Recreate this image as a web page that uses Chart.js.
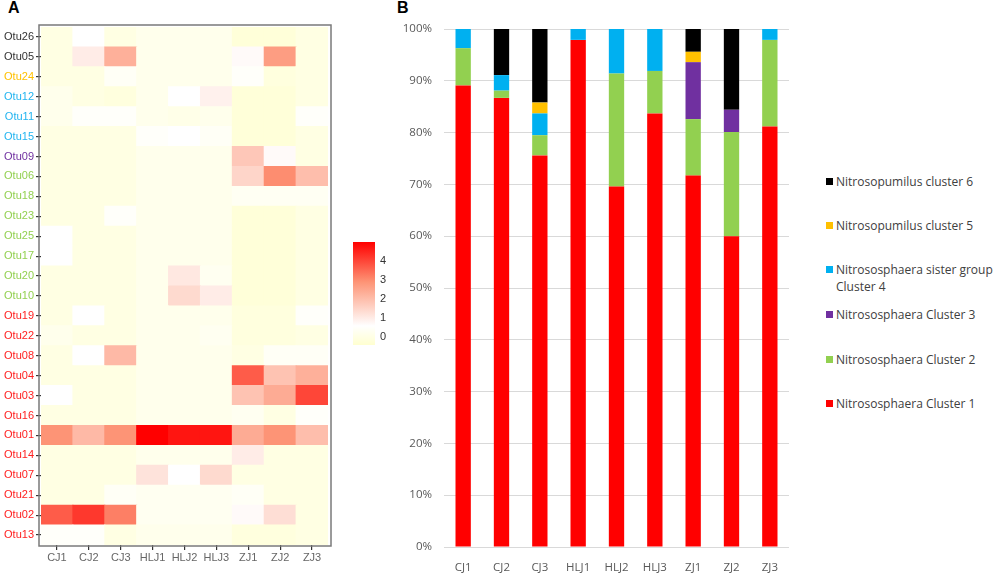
<!DOCTYPE html>
<html>
<head>
<meta charset="utf-8">
<script src="https://cdn.jsdelivr.net/npm/chart.js@4"></script>
<style>
  html, body { margin:0; padding:0; background:#fff; }
  body { width:1000px; height:573px; position:relative; overflow:hidden; }
  .panel { position:absolute; font-family:"Liberation Sans", Arial, sans-serif; font-weight:bold; font-size:16px; color:#000; }
  canvas { position:absolute; }
  #legend { position:absolute; left:826px; top:0; font-family:"Open Sans", sans-serif; font-size:12px; color:#404040; }
  .li { position:absolute; white-space:nowrap; line-height:17px; }
  .sw { position:absolute; width:7px; height:7px; left:0; }
  .tx { position:absolute; left:10px; }
</style>
</head>
<body>
<div class="panel" style="left:8px;top:-1px;">A</div>
<div class="panel" style="left:397px;top:-1px;">B</div>
<div style="position:absolute;left:0;top:0;width:340px;height:573px;"><canvas id="heat"></canvas></div>
<div style="position:absolute;left:340px;top:230px;width:60px;height:130px;"><canvas id="cbar"></canvas></div>
<div style="position:absolute;left:380px;top:0;width:420px;height:573px;"><canvas id="bars"></canvas></div>
<div id="legend"></div>
<script>
// ---------- data ----------
const samples = ['CJ1','CJ2','CJ3','HLJ1','HLJ2','HLJ3','ZJ1','ZJ2','ZJ3'];

const clusterNames = ['Nitrososphaera Cluster 1','Nitrososphaera Cluster 2','Nitrososphaera Cluster 3',
  'Nitrososphaera sister group Cluster 4','Nitrosopumilus cluster 5','Nitrosopumilus cluster 6'];
const clusterColors = ['#FF0000','#92D050','#7030A0','#00B0F0','#FFC000','#000000'];
const clusterLabelColors = ['#FF2020','#92D050','#7030A0','#22B4F0','#FFC000','#333333'];

const cluster1 = [89.1, 86.7, 75.6, 97.9, 69.6, 83.7, 71.7, 60.0, 81.2];
const cluster2 = [7.2, 1.4, 3.9, 0, 21.8, 8.2, 10.9, 20.1, 16.7];
const cluster3 = [0, 0, 0, 0, 0, 0, 11.0, 4.3, 0];
const cluster4 = [3.7, 3.0, 4.2, 2.1, 8.6, 8.1, 0, 0, 2.1];
const cluster5 = [0, 0, 2.1, 0, 0, 0, 2.0, 0, 0];
const cluster6 = [0, 8.9, 14.2, 0, 0, 0, 4.4, 15.6, 0];
const clusterValues = [cluster1, cluster2, cluster3, cluster4, cluster5, cluster6];

// heatmap rows, top to bottom
const otus = ['Otu26','Otu05','Otu24','Otu12','Otu11','Otu15','Otu09','Otu06','Otu18','Otu23','Otu25','Otu17','Otu20',
  'Otu10','Otu19','Otu22','Otu08','Otu04','Otu03','Otu16','Otu01','Otu14','Otu07','Otu21','Otu02','Otu13'];
const otuCluster = [6,6,5,4,4,4,3,2,2,2,2,2,2,2,1,1,1,1,1,1,1,1,1,1,1,1];
const heatValues = [
  [0.0, 0.6, 0.0, 0.2, 0.2, 0.2, -0.2, -0.2, 0.0], // Otu26
  [0.0, 1.0, 2.3, 0.2, 0.2, 0.2, 0.7, 2.7, 0.0],   // Otu05
  [0.0, 0.0, 0.4, 0.2, 0.2, 0.2, 0.5, -0.1, 0.0],  // Otu24
  [0.2, 0.0, -0.1, 0.2, 0.6, 0.9, -0.2, -0.2, 0.0],// Otu12
  [0.2, 0.5, 0.5, 0.2, 0.1, 0.2, -0.2, -0.2, 0.5], // Otu11
  [0.0, 0.0, 0.0, 0.5, 0.6, 0.4, -0.2, -0.2, 0.0], // Otu15
  [0.0, 0.0, 0.0, 0.2, 0.2, 0.2, 1.8, 0.7, 0.0],   // Otu09
  [0.0, 0.0, 0.0, 0.2, 0.2, 0.2, 1.5, 3.0, 2.0],   // Otu06
  [0.0, 0.0, 0.0, 0.2, 0.2, 0.2, 0.35, 0.35, 0.35],// Otu18
  [0.0, 0.0, 0.5, 0.2, 0.2, 0.2, -0.2, -0.2, 0.0], // Otu23
  [0.6, 0.0, 0.0, 0.2, 0.2, 0.2, -0.2, -0.2, 0.0], // Otu25
  [0.6, 0.0, 0.0, 0.2, 0.2, 0.2, -0.2, -0.2, 0.0], // Otu17
  [0.0, 0.0, 0.0, 0.2, 1.1, 0.3, -0.2, -0.2, 0.0], // Otu20
  [0.0, 0.0, 0.0, 0.2, 1.4, 1.0, -0.2, -0.2, 0.0], // Otu10
  [0.0, 0.6, 0.0, 0.2, 0.2, 0.2, -0.1, -0.1, 0.5], // Otu19
  [0.2, 0.0, 0.0, 0.2, 0.2, 0.3, -0.1, -0.1, 0.0], // Otu22
  [0.0, 0.6, 2.1, 0.2, 0.2, 0.2, 0.0, 0.4, 0.4],   // Otu08
  [0.0, 0.0, 0.0, 0.2, 0.2, 0.2, 3.7, 1.9, 2.3],   // Otu04
  [0.6, 0.0, 0.0, 0.2, 0.2, 0.2, 1.9, 2.4, 4.0],   // Otu03
  [0.0, 0.0, 0.0, 0.2, 0.2, 0.2, 0.3, 0.0, 0.5],   // Otu16
  [2.9, 2.1, 2.9, 5.0, 4.7, 4.7, 2.4, 2.9, 2.0],   // Otu01
  [0.0, 0.0, 0.0, 0.2, 0.2, 0.2, 1.0, 0.0, 0.0],   // Otu14
  [0.0, 0.0, 0.0, 1.2, 0.6, 1.4, 0.0, 0.0, 0.0],   // Otu07
  [0.0, 0.0, 0.4, 0.3, 0.3, 0.3, 0.4, 0.0, 0.0],   // Otu21
  [3.7, 4.2, 3.2, 0.3, 0.3, 0.3, 0.7, 1.3, 0.0],   // Otu02
  [0.5, 0.5, 0.0, 0.2, 0.2, 0.2, -0.1, -0.1, 0.0]  // Otu13
];
const colorMin = -0.4, colorMax = 5;
const colorTicks = [0, 1, 2, 3, 4];
const percentTicks = [0,10,20,30,40,50,60,70,80,90,100];

// ---------- colour ramp ----------
const rampStops = [
  [-0.4, [255,255,208]],
  [0.6,  [255,255,255]],
  [2.9,  [253,148,118]],
  [5.0,  [255,0,0]]
];
function rampColor(v) {
  if (v <= rampStops[0][0]) return 'rgb(' + rampStops[0][1].join(',') + ')';
  for (let i = 1; i < rampStops.length; i++) {
    const [v1, c1] = rampStops[i];
    const [v0, c0] = rampStops[i-1];
    if (v <= v1) {
      const t = (v - v0) / (v1 - v0);
      const c = c0.map((a, k) => Math.round(a + (c1[k] - a) * t));
      return 'rgb(' + c.join(',') + ')';
    }
  }
  return 'rgb(' + rampStops[rampStops.length-1][1].join(',') + ')';
}

Chart.defaults.animation = false;
Chart.defaults.events = [];
Chart.defaults.plugins.tooltip.enabled = false;
Chart.defaults.plugins.legend.display = false;

// ---------- heatmap (A) ----------
const heatDatasets = [];
for (let r = otus.length - 1; r >= 0; r--) {
  heatDatasets.push({
    label: otus[r],
    data: samples.map(() => 1),
    backgroundColor: heatValues[r].map(rampColor),
    borderWidth: 0,
    barPercentage: 1,
    categoryPercentage: 1,
    inflateAmount: 0.5
  });
}
const framePlugin = {
  id: 'frame',
  afterDraw(chart) {
    const a = chart.chartArea, c = chart.ctx;
    c.save();
    c.strokeStyle = '#7a7a7a';
    c.lineWidth = 1.5;
    c.strokeRect(a.left - 2, a.top - 2, a.right - a.left + 5, a.bottom - a.top + 3);
    c.restore();
  }
};
new Chart(document.getElementById('heat'), {
  type: 'bar',
  data: { labels: samples, datasets: heatDatasets },
  options: {
    responsive: true, maintainAspectRatio: false,
    layout: { padding: { top: 27, right: 12, left: 0, bottom: 0 } },
    scales: {
      x: {
        stacked: true,
        grid: { display: true, drawOnChartArea: false, offset: false, tickLength: 5, color: '#333', lineWidth: 1.2 },
        border: { display: false },
        ticks: { color: '#666', font: { family: 'Liberation Sans', size: 11 }, padding: 1, maxRotation: 0 },
        afterFit(s) { s.height = 28; }
      },
      y: {
        stacked: true, min: 0, max: otus.length,
        afterBuildTicks(s) { s.ticks = otus.map((_, i) => ({ value: i + 0.5 })); },
        grid: { display: true, drawOnChartArea: false, tickLength: 5, color: '#333', lineWidth: 1.2 },
        border: { display: false },
        ticks: {
          autoSkip: false, padding: 2,
          font: { family: 'Liberation Sans', size: 11 },
          callback: (v, i) => otus[otus.length - 1 - i],
          color: ctx => clusterLabelColors[otuCluster[otus.length - 1 - ctx.index] - 1]
        },
        afterFit(s) { s.width = 41; }
      }
    }
  },
  plugins: [framePlugin]
});

// ---------- colour key ----------
function barGradient(ctx) {
  const chart = ctx.chart, area = chart.chartArea;
  if (!area) return '#fff';
  const ys = chart.scales.y;
  const g = chart.ctx.createLinearGradient(0, ys.getPixelForValue(colorMin), 0, ys.getPixelForValue(colorMax));
  rampStops.forEach(([v, c]) => {
    g.addColorStop((v - colorMin) / (colorMax - colorMin), 'rgb(' + c.join(',') + ')');
  });
  return g;
}
new Chart(document.getElementById('cbar'), {
  type: 'bar',
  data: { labels: ['key'], datasets: [{ data: [[colorMin, colorMax]], backgroundColor: barGradient, borderWidth: 0, barPercentage: 1, categoryPercentage: 1 }] },
  options: {
    responsive: true, maintainAspectRatio: false,
    layout: { padding: { top: 12, left: 13, bottom: 15, right: 0 } },
    scales: {
      x: { display: false },
      y: {
        position: 'right', min: colorMin, max: colorMax, z: 1,
        afterBuildTicks(s) { s.ticks = colorTicks.map(v => ({ value: v })); },
        grid: { color: 'rgba(255,255,255,0.75)', drawTicks: false, lineWidth: 1 },
        border: { display: false, dash: [5, 12] },
        ticks: { color: '#333', font: { family: 'Liberation Sans', size: 11 }, padding: 5 },
        afterFit(s) { s.width = 25; }
      }
    }
  }
});

// ---------- stacked bars (B) ----------
new Chart(document.getElementById('bars'), {
  type: 'bar',
  data: {
    labels: samples,
    datasets: clusterValues.map((vals, i) => ({
      label: clusterNames[i], data: vals, backgroundColor: clusterColors[i],
      borderWidth: 0, barPercentage: 0.4, categoryPercentage: 1
    }))
  },
  options: {
    responsive: true, maintainAspectRatio: false,
    layout: { padding: { top: 29, right: 11, left: 0, bottom: 0 } },
    scales: {
      x: {
        stacked: true,
        grid: { display: false },
        border: { display: false },
        ticks: { color: '#595959', font: { family: 'Open Sans', size: 11.5 }, padding: 6, maxRotation: 0 },
        afterFit(s) { s.height = 26; }
      },
      y: {
        stacked: true, min: 0, max: 100,
        afterBuildTicks(s) { s.ticks = percentTicks.map(v => ({ value: v })); },
        grid: { color: '#d9d9d9', drawTicks: false, lineWidth: 1 },
        border: { display: false },
        ticks: { color: '#595959', font: { family: 'Open Sans', size: 11.5 }, padding: 12, callback: v => v + '%' },
        afterFit(s) { s.width = 64; }
      }
    }
  }
});

// ---------- legend for B (top = last cluster) ----------
const legendY = [181, 225.7, 269.3, 314.3, 359.3, 403.3];
const legendEl = document.getElementById('legend');
for (let k = 0; k < clusterNames.length; k++) {
  const idx = clusterNames.length - 1 - k;
  const item = document.createElement('div');
  item.className = 'li';
  item.style.top = (legendY[k] - 8.5) + 'px';
  const sw = document.createElement('div');
  sw.className = 'sw';
  sw.style.background = clusterColors[idx];
  sw.style.top = '5px';
  const tx = document.createElement('div');
  tx.className = 'tx';
  let name = clusterNames[idx];
  if (name.indexOf('sister group') >= 0) name = name.replace(' Cluster', '<br>Cluster');
  tx.innerHTML = name;
  item.appendChild(sw); item.appendChild(tx);
  legendEl.appendChild(item);
}
</script>
</body>
</html>
